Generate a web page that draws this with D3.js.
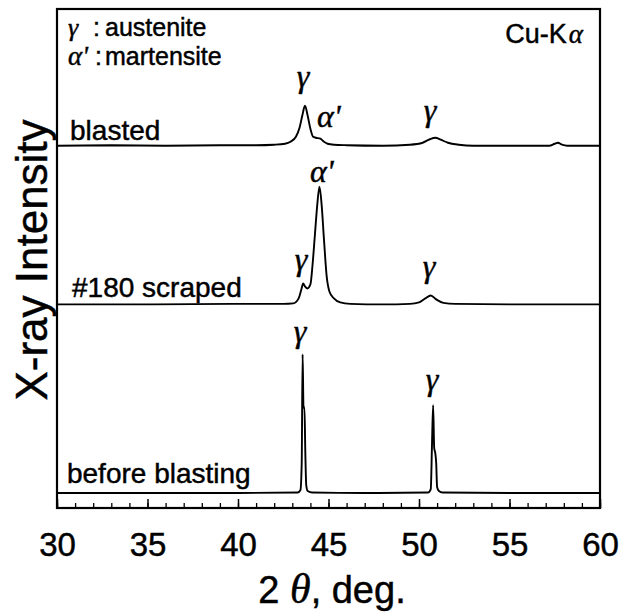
<!DOCTYPE html>
<html>
<head>
<meta charset="utf-8">
<script src="https://cdn.jsdelivr.net/npm/d3@7"></script>
<style>
  body { margin: 0; background: #fff; }
  svg { display: block; font-family: "Liberation Sans", Arial, sans-serif; }
  text { stroke: #000; stroke-width: 0.45px; }
  .greek { font-family: "Liberation Serif", "Times New Roman", serif; font-style: italic; }
</style>
</head>
<body>
<svg id="chart" width="626" height="614"></svg>
<script>
// x ticks (2 theta, deg.)
const majorTicks = [30, 35, 40, 45, 50, 55, 60];
const minorTicks = d3.range(30, 61, 1);

// sample names and their vertical offsets (stacked patterns)
const samples = ["blasted", "#180 scraped", "before blasting"];
const offsets = [363, 204, 15];

// [2theta, intensity above own baseline]
const blasted = [
  [30, 0], [33, 0.5], [36, 0], [39, 0.5], [41, 0.5], [42, 1], [42.6, 2], [42.9, 4],
  [43.2, 9], [43.4, 18], [43.55, 30], [43.7, 40], [43.85, 30], [44.0, 17], [44.15, 9],
  [44.3, 8], [44.55, 7], [44.75, 4], [44.95, 2], [45.3, 1], [46, 0.5], [48, 0],
  [49.5, 1], [50.2, 3], [50.6, 6.5], [50.9, 8], [51.2, 6], [51.6, 3], [52.2, 1],
  [53, 0], [55, 0], [57.2, 0], [57.5, 2], [57.67, 3], [57.9, 1], [58.2, 0], [60, 0]
];
const scraped = [
  [30, 0], [35, 0], [40, 0.5], [42.5, 0.5], [43.05, 1], [43.35, 6], [43.5, 15],
  [43.6, 21], [43.7, 18], [43.83, 16], [44.0, 20], [44.12, 40], [44.25, 70],
  [44.38, 100], [44.5, 118], [44.62, 100], [44.75, 65], [44.9, 28], [45.05, 13],
  [45.3, 6], [45.65, 2], [46.2, 0.5], [48, 0], [49.5, 0.5], [50.0, 2], [50.35, 6],
  [50.65, 9], [50.95, 5], [51.35, 1.5], [52, 0.5], [55, 0], [60, 0]
];
const before = [
  [30, 0], [35, 0], [40, 0], [43.3, 0.5], [43.45, 3], [43.52, 30], [43.57, 139],
  [43.62, 85], [43.67, 86], [43.72, 40], [43.77, 8], [43.85, 2], [44.1, 0.5], [47, 0],
  [50.5, 0.5], [50.65, 4], [50.72, 50], [50.78, 88], [50.84, 45], [50.9, 40],
  [50.95, 30], [51.0, 6], [51.1, 2], [51.3, 0.5], [55, 0], [60, 0]
];
const patterns = [blasted, scraped, before];

// peak labels: [2theta, intensity, symbol, anchor]
const peakLabels = [
  [43.59, 422, "γ", "middle"],
  [44.36, 382, "α'", "start"],
  [50.61, 388, "γ", "middle"],
  [43.98, 327, "α'", "start"],
  [43.48, 238, "γ", "middle"],
  [50.55, 231, "γ", "middle"],
  [43.43, 166, "γ", "middle"],
  [50.72, 118, "γ", "middle"]
];

const svg = d3.select("#chart");
const margin = { top: 9, right: 26, bottom: 106, left: 57 };
const width = 626 - margin.left - margin.right,
      height = 614 - margin.top - margin.bottom;

const x = d3.scaleLinear().domain([30, 60]).range([0, width]);
const y = d3.scaleLinear().domain([0, 500]).range([height, 0]);

const g = svg.append("g")
    .attr("transform", "translate(" + margin.left + "," + margin.top + ")");

// minor ticks
g.append("g")
    .attr("transform", "translate(0," + height + ")")
    .call(d3.axisBottom(x).tickValues(minorTicks).tickSize(-5).tickFormat(""))
    .call(a => a.select(".domain").remove())
    .selectAll("line").attr("stroke", "#000").attr("stroke-width", 1.3);

// major ticks with labels
g.append("g")
    .attr("transform", "translate(0," + height + ")")
    .call(d3.axisBottom(x).tickValues(majorTicks).tickSize(-9).tickPadding(25).tickFormat(d3.format("d")))
    .call(a => a.select(".domain").remove())
    .call(a => a.selectAll("line").attr("stroke", "#000").attr("stroke-width", 1.5))
    .call(a => a.selectAll("text")
        .attr("fill", "#000")
        .style("font-family", "'Liberation Sans', Arial, sans-serif")
        .style("font-size", "33px"));

// frame
g.append("rect")
    .attr("width", width)
    .attr("height", height)
    .attr("fill", "none")
    .attr("stroke", "#000")
    .attr("stroke-width", 2.2);

// patterns
const line = d3.line()
    .x(d => x(d[0]))
    .y(d => d[1])
    .curve(d3.curveMonotoneX);

g.selectAll(".pattern")
    .data(patterns)
    .enter()
    .append("path")
    .attr("class", "pattern")
    .attr("fill", "none")
    .attr("stroke", "#000")
    .attr("stroke-width", 1.9)
    .attr("stroke-linejoin", "round")
    .attr("d", (d, i) => line(d.map(p => [p[0], y(p[1] + offsets[i])])));

// sample names
const nameX = [30.72, 30.83, 30.55];
const nameY = [369, 211, 25];
g.selectAll(".name")
    .data(samples)
    .enter()
    .append("text")
    .attr("class", "name")
    .attr("x", (d, i) => x(nameX[i]))
    .attr("y", (d, i) => y(nameY[i]))
    .style("font-size", "28px")
    .text(d => d);

// peak labels
g.selectAll(".peak")
    .data(peakLabels)
    .enter()
    .append("text")
    .attr("class", "peak greek")
    .attr("x", d => x(d[0]))
    .attr("y", d => y(d[1]))
    .attr("text-anchor", d => d[3])
    .style("font-size", "32px")
    .text(d => d[2]);

// legend
const legend = g.append("g").style("font-size", "25px");
const l1 = legend.append("text").attr("x", 11).attr("y", 27);
l1.append("tspan").attr("class", "greek").style("font-size", "26px").text("γ");
l1.append("tspan").attr("x", 36).text(":");
l1.append("tspan").attr("x", 48).text("austenite");
const l2 = legend.append("text").attr("x", 11).attr("y", 56);
l2.append("tspan").attr("class", "greek").style("font-size", "27px").text("α'");
l2.append("tspan").attr("x", 38).text(":");
l2.append("tspan").attr("x", 48).text("martensite");

const cu = g.append("text")
    .attr("x", width - 17)
    .attr("y", 34)
    .attr("text-anchor", "end")
    .style("font-size", "27px");
cu.append("tspan").text("Cu-K");
cu.append("tspan").attr("class", "greek").attr("dx", 2).text("α");

// axis titles
svg.append("text")
    .attr("transform", "translate(47,260) rotate(-90)")
    .attr("text-anchor", "middle")
    .style("font-size", "44px")
    .text("X-ray Intensity");

const xt = svg.append("text")
    .attr("x", 332)
    .attr("y", 603)
    .attr("text-anchor", "middle")
    .style("font-size", "38px");
xt.append("tspan").text("2 ");
xt.append("tspan").attr("class", "greek").style("font-size", "42px").text("θ");
xt.append("tspan").text(", deg.");
</script>
</body>
</html>
